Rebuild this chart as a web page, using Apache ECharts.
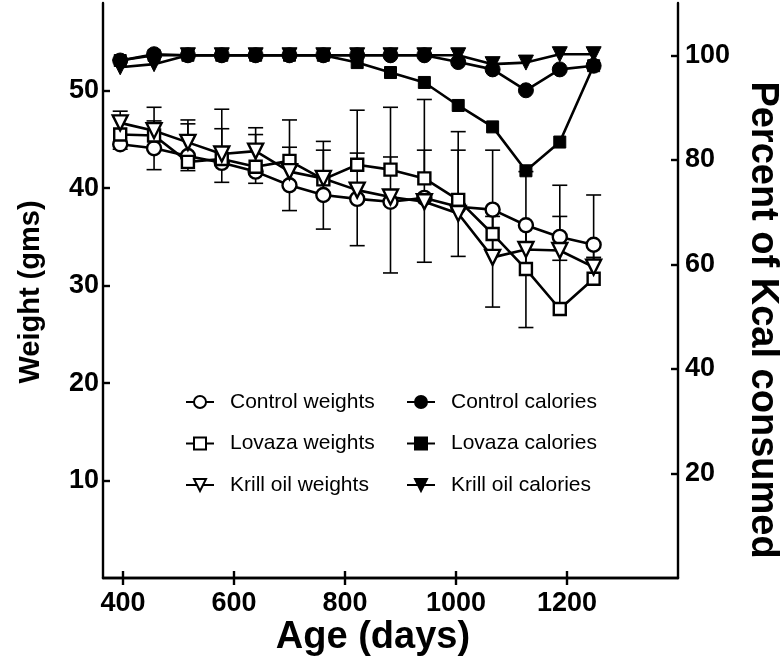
<!DOCTYPE html>
<html>
<head>
<meta charset="utf-8">
<script src="https://cdn.jsdelivr.net/npm/echarts@6/dist/echarts.min.js"></script>
<style>
html,body{margin:0;padding:0;background:#fff;}
#chart{width:783px;height:663px;}
</style>
</head>
<body>
<div id="chart"></div>
<script>
// ---- data ----
const ages = [395, 456, 517, 578, 639, 700, 761, 822, 882, 943, 1004, 1066, 1126, 1187, 1248];

const controlWeights    = [44.5, 44.1, 43.3, 42.6, 41.7, 40.3, 39.3, 38.9, 38.6, 39.0, 38.1, 37.8, 36.2, 35.0, 34.2];
const controlWeightsErr = [0.5, 2.2, 1.5, 2.0, 1.2, 2.6, 3.5, 4.8, 7.3, 6.6, 5.1, 10.0, 10.5, 2.4, 1.5]; // drawn below

const lovazaWeights     = [45.5, 45.4, 42.7, 43.0, 42.2, 42.8, 40.9, 42.4, 41.9, 41.0, 38.8, 35.3, 31.7, 27.6, 30.7];
const lovazaWeightsErr  = [2.4, 2.9, 4.3, 5.1, 4.0, 4.2, 3.9, 5.6, 6.4, 8.1, 7.0, 8.6, 10.0, 12.7, 8.6]; // drawn above

const krillWeights      = [46.7, 45.9, 44.7, 43.5, 43.8, 41.7, 41.0, 39.8, 39.1, 38.6, 37.4, 32.9, 33.7, 33.6, 31.9];
const krillWeightsErr   = [0.6, 1.0, 1.9, 2.6, 1.7, 2.5, 2.9, 3.8, 4.1, 5.3, 6.5, 4.2, 2.6, 3.5, 1.0]; // drawn above

const controlCalories = [99.0, 100.2, 100, 100, 100, 100, 100, 100, 100, 100, 98.7, 97.3, 93.3, 97.3, 98.0];
const lovazaCalories  = [99.0, 100, 100, 100, 100, 100, 100, 98.6, 96.7, 94.8, 90.4, 86.3, 77.9, 83.4, 98.0];
const krillCalories   = [97.7, 98.3, 100, 100, 100, 100, 100, 100, 100, 100, 100, 98.3, 98.6, 100.2, 100.2];

const xTicks = [400, 600, 800, 1000, 1200];
const leftTicks = [10, 20, 30, 40, 50];
const rightTicks = [20, 40, 60, 80, 100];

const xTitle = 'Age (days)';
const leftTitle = 'Weight (gms)';
const rightTitle = 'Percent of Kcal consumed';

// ---- helpers ----
const pairs = vals => ages.map((a, i) => [a, vals[i]]);
const errData = (vals, errs, dir) => ages.map((a, i) => [a, vals[i], vals[i] + dir * errs[i]]);

function renderErr(params, api) {
  const x = api.value(0);
  const p1 = api.coord([x, api.value(1)]);
  const p2 = api.coord([x, api.value(2)]);
  const hw = 7.5;
  const st = { stroke: '#000', lineWidth: 1.6 };
  return {
    type: 'group',
    children: [
      { type: 'line', shape: { x1: p1[0], y1: p1[1], x2: p2[0], y2: p2[1] }, style: st },
      { type: 'line', shape: { x1: p2[0] - hw, y1: p2[1], x2: p2[0] + hw, y2: p2[1] }, style: st }
    ]
  };
}

const FONT = '"Liberation Sans", Arial, sans-serif';

function lineSeries(name, vals, symbol, size, filled, yIdx, rotate) {
  return {
    name, type: 'line', data: pairs(vals), yAxisIndex: yIdx, xAxisIndex: 0,
    symbol, symbolSize: size, symbolRotate: rotate || 0, showSymbol: true,
    lineStyle: { color: '#000', width: 2.6 },
    itemStyle: filled ? { color: '#000', borderColor: '#000', borderWidth: 1 }
                      : { color: '#fff', borderColor: '#000', borderWidth: 2.4 },
    emphasis: { disabled: true },
    z: filled ? 4 : 3,
    animation: false
  };
}

function errSeries(vals, errs, dir) {
  return {
    type: 'custom', renderItem: renderErr, data: errData(vals, errs, dir),
    xAxisIndex: 0, yAxisIndex: 0, encode: { x: 0, y: [1, 2] }, z: 1, silent: true, animation: false
  };
}

const axisLine = { show: true, lineStyle: { color: '#000', width: 2.4 } };
const tickStyle = { color: '#000', width: 2.4 };
const labelStyle = { color: '#000', fontSize: 27, fontWeight: 'bold', fontFamily: FONT, formatter: v => String(v) };

const legendText = { color: '#000', fontSize: 21, fontFamily: FONT, padding: [0, 0, 0, 11], lineHeight: 22 };

const option = {
  backgroundColor: '#fff',
  animation: false,
  grid: { left: 103, right: 105, top: 3, bottom: 85, containLabel: false },
  xAxis: [
    {
      type: 'value', position: 'bottom', min: 364, max: 1400,
      axisLine, splitLine: { show: false },
      axisTick: { show: true, inside: true, length: 7, lineStyle: tickStyle, customValues: xTicks },
      axisLabel: { ...labelStyle, margin: 12, customValues: xTicks }
    },
    {
      type: 'value', position: 'top', min: 364, max: 1400,
      axisLine, splitLine: { show: false },
      axisTick: { show: true, inside: true, length: 7, lineStyle: tickStyle, customValues: xTicks },
      axisLabel: { show: false }
    }
  ],
  yAxis: [
    {
      type: 'value', position: 'left', min: 0, max: 59,
      axisLine, splitLine: { show: false },
      axisTick: { show: true, inside: true, length: 7, lineStyle: tickStyle, customValues: leftTicks },
      axisLabel: { ...labelStyle, margin: 4, customValues: leftTicks }
    },
    {
      type: 'value', position: 'right', min: 0, max: 110,
      axisLine, splitLine: { show: false },
      axisTick: { show: true, inside: true, length: 7, lineStyle: tickStyle, customValues: rightTicks },
      axisLabel: { ...labelStyle, margin: 7, customValues: rightTicks }
    }
  ],
  graphic: [
    { type: 'text', x: 373, y: 638, silent: true,
      style: { text: xTitle, fill: '#000', font: 'bold 38px ' + FONT, align: 'center', verticalAlign: 'middle' } },
    { type: 'text', x: 31, y: 292, rotation: Math.PI / 2, silent: true,
      style: { text: leftTitle, fill: '#000', font: 'bold 29px ' + FONT, align: 'center', verticalAlign: 'middle' } },
    { type: 'text', x: 762, y: 320, rotation: -Math.PI / 2, silent: true,
      style: { text: rightTitle, fill: '#000', font: 'bold 38px ' + FONT, align: 'center', verticalAlign: 'middle' } }
  ],
  legend: [
    {
      orient: 'vertical', left: 185, top: 391, padding: 0, itemWidth: 28, itemHeight: 15, itemGap: 19.5,
      data: ['Control weights', 'Lovaza weights', 'Krill oil weights'],
      textStyle: legendText, selectedMode: false
    },
    {
      orient: 'vertical', left: 406, top: 391, padding: 0, itemWidth: 28, itemHeight: 15, itemGap: 19.5,
      data: ['Control calories', 'Lovaza calories', 'Krill oil calories'],
      textStyle: legendText, selectedMode: false
    }
  ],
  series: [
    errSeries(controlWeights, controlWeightsErr, -1),
    errSeries(lovazaWeights, lovazaWeightsErr, 1),
    errSeries(krillWeights, krillWeightsErr, 1),
    lineSeries('Control weights', controlWeights, 'circle', 14, false, 0),
    lineSeries('Lovaza weights', lovazaWeights, 'rect', 12, false, 0),
    lineSeries('Krill oil weights', krillWeights, 'triangle', 15, false, 0, 180),
    lineSeries('Control calories', controlCalories, 'circle', 15, true, 1),
    lineSeries('Lovaza calories', lovazaCalories, 'rect', 12, true, 1),
    lineSeries('Krill oil calories', krillCalories, 'triangle', 15, true, 1, 180)
  ]
};

const chart = echarts.init(document.getElementById('chart'), null, { renderer: 'canvas' });
chart.setOption(option);
</script>
</body>
</html>
